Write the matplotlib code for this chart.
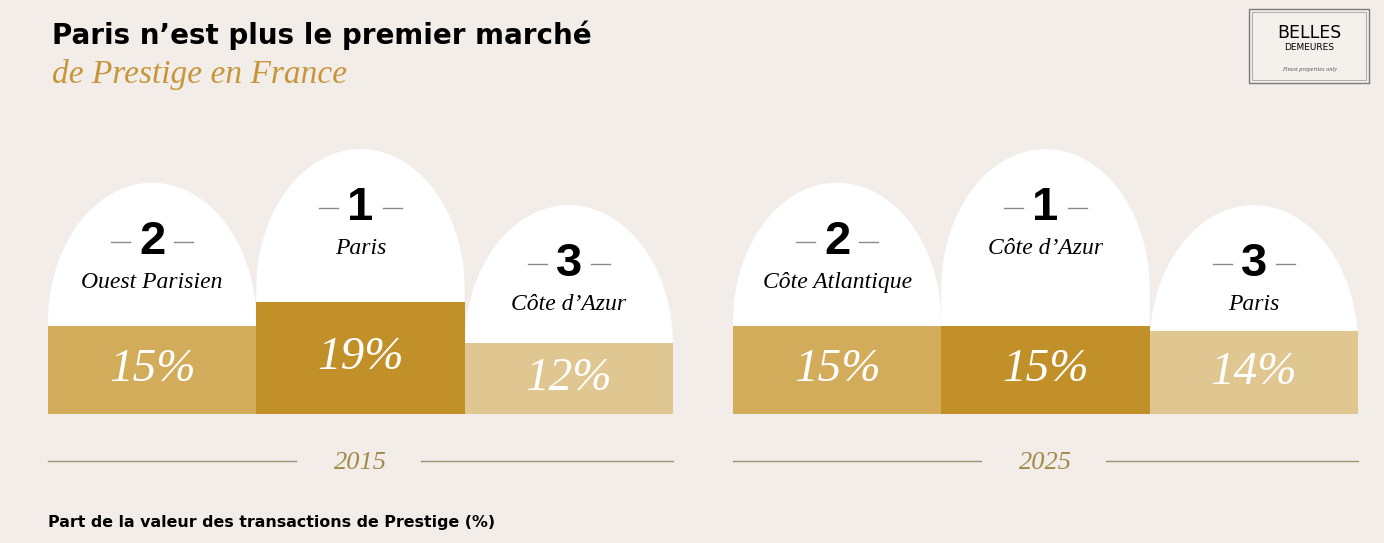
import matplotlib.pyplot as plt
from matplotlib.patches import Polygon, Rectangle
import numpy as np

# Data
years = ["2015", "2025"]
regions_2015 = ["Ouest Parisien", "Paris", "Côte d’Azur"]
ranks_2015 = [2, 1, 3]
shares_2015 = [15, 19, 12]
regions_2025 = ["Côte Atlantique", "Côte d’Azur", "Paris"]
ranks_2025 = [2, 1, 3]
shares_2025 = [15, 15, 14]

# Style
bg = "#F2EDE9"
bar_colors = ["#D2AB5B", "#C29028", "#E0C791"]
gold = "#C8963A"
olive = "#A08C48"
rank_top = {1: 44.9, 2: 39.2, 3: 35.4}   # height of arch top per rank
arch_h = 23.7
serif = "Liberation Serif"

W, H = 1384, 543
fig = plt.figure(figsize=(W / 100, H / 100), dpi=100, facecolor=bg)


def fx(x):
    return x / W


def fy(y):
    return 1 - y / H


def podium(left_px, year, regions, ranks, shares):
    ax = fig.add_axes([fx(left_px), fy(414), 625 / W, 274 / H])
    ax.set_xlim(-0.5, 2.5)
    ax.set_ylim(0, 274 / 5.9)
    ax.axis("off")
    x = np.arange(len(regions))
    # white arches
    t = np.linspace(np.pi, 0, 90)
    for i, r in zip(x, ranks):
        top = rank_top[r]
        sh = top - arch_h
        pts = [(i - 0.5, 0)] + list(zip(i + 0.5 * np.cos(t), sh + arch_h * np.sin(t))) + [(i + 0.5, 0)]
        ax.add_patch(Polygon(pts, closed=True, facecolor="white", edgecolor="none", zorder=1))
        ax.text(i, top - 10, str(r), ha="center", va="center", fontsize=34,
                fontweight="bold", family="Liberation Sans", color="black", zorder=3)
        for s in (-1, 1):
            ax.plot([i + s * 0.106, i + s * 0.197], [top - 10, top - 10], color="#8a8a8a", lw=1, zorder=3)
    for i, reg, r in zip(x, regions, ranks):
        ax.text(i, rank_top[r] - 16.9, reg, ha="center", va="center", fontsize=17,
                style="italic", family=serif, color="black", zorder=3)
    # bars
    ax.bar(x, shares, width=1.0, color=bar_colors, zorder=2)
    for i, v in zip(x, shares):
        ax.text(i, v / 2, f"{v}%", ha="center", va="center", fontsize=34,
                style="italic", family=serif, color="white", zorder=3)
    # year line
    yl = -47 / 5.9
    ax.plot([-0.5, 0.69], [yl, yl], color="#9A9270", lw=1, clip_on=False)
    ax.plot([1.29, 2.5], [yl, yl], color="#9A9270", lw=1, clip_on=False)
    ax.text(1, yl - 0.4, year, ha="center", va="center", fontsize=19, style="italic",
            family=serif, color=olive, clip_on=False)
    return ax


podium(48, years[0], regions_2015, ranks_2015, shares_2015)
podium(733, years[1], regions_2025, ranks_2025, shares_2025)

# Titles
fig.text(fx(52), fy(35), "Paris n’est plus le premier marché", ha="left", va="center",
         fontsize=20, fontweight="bold", family="DejaVu Sans", color="black")
fig.text(fx(52), fy(75), "de Prestige en France", ha="left", va="center",
         fontsize=24, style="italic", family=serif, color=gold)
fig.text(fx(48), fy(522), "Part de la valeur des transactions de Prestige (%)", ha="left",
         va="center", fontsize=11.4, fontweight="bold", family="DejaVu Sans", color="black")

# Logo
fig.add_artist(Rectangle((fx(1249), fy(83)), 120 / W, 74 / H, transform=fig.transFigure,
                         facecolor="#F4F0EC", edgecolor="#7a7a7a", lw=1))
fig.add_artist(Rectangle((fx(1252), fy(80)), 114 / W, 68 / H, transform=fig.transFigure,
                         facecolor="none", edgecolor="#b0b0b0", lw=0.8))
fig.text(fx(1309), fy(33), "BELLES", ha="center", va="center", fontsize=12.5,
         family="DejaVu Sans", color="black")
fig.text(fx(1309), fy(47), "DEMEURES", ha="center", va="center", fontsize=6.5,
         family="DejaVu Sans", color="black")
fig.text(fx(1309), fy(69), "Finest properties only", ha="center", va="center", fontsize=4.5,
         style="italic", family=serif, color="#555555")

fig.savefig("out.png", dpi=100, facecolor=bg)
